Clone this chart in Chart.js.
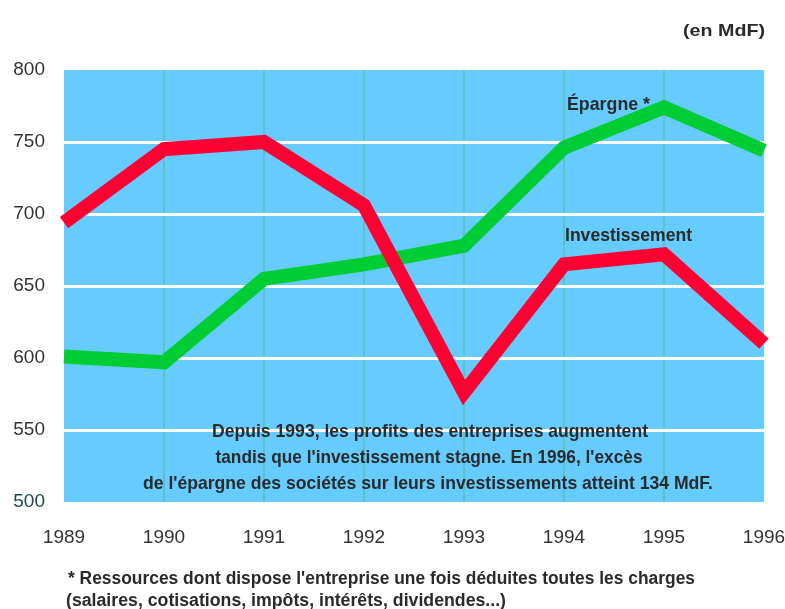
<!DOCTYPE html>
<html>
<head>
<meta charset="utf-8">
<script src="https://cdn.jsdelivr.net/npm/chart.js@4/dist/chart.umd.min.js"></script>
<style>
  html, body { margin: 0; padding: 0; background: #ffffff; }
  #wrap { width: 785px; height: 609px; position: relative; }
</style>
</head>
<body>
<div id="wrap"><canvas id="c" width="785" height="609"></canvas></div>
<script>
// Années
const years = ['1989', '1990', '1991', '1992', '1993', '1994', '1995', '1996'];
// Épargne des sociétés (en MdF)
const epargne = [601, 597, 655, 665, 678, 746, 774, 744];
// Investissement des sociétés (en MdF)
const investissement = [694, 745, 750, 706, 576, 665, 672, 610];
// Graduations de l'axe vertical
const yTicks = [500, 550, 600, 650, 700, 750, 800];

const annotationLines = [
  "Depuis 1993, les profits des entreprises augmentent",
  "tandis que l'investissement stagne. En 1996, l'excès",
  "de l'épargne des sociétés sur leurs investissements atteint 134 MdF."
];
const footnoteLines = [
  "* Ressources dont dispose l'entreprise une fois déduites toutes les charges",
  "(salaires, cotisations, impôts, intérêts, dividendes...)"
];

const TEXT = '#2a2a2a';

// Draws text squeezed or stretched horizontally to a given width
function fitText(ctx, text, x, y, w, align) {
  const m = ctx.measureText(text).width;
  ctx.save();
  ctx.translate(x, y);
  ctx.scale(w / m, 1);
  ctx.textAlign = 'left';
  ctx.textBaseline = 'alphabetic';
  let dx = 0;
  if (align === 'center') dx = -m / 2;
  else if (align === 'right') dx = -m;
  ctx.fillText(text, dx, 0);
  ctx.restore();
}

const plotBackground = {
  id: 'plotBackground',
  beforeDraw(chart) {
    const { ctx, chartArea: a } = chart;
    ctx.save();
    ctx.fillStyle = '#66ccff';
    ctx.fillRect(a.left, a.top, a.right - a.left, a.bottom - a.top);
    ctx.restore();
  }
};

const textLayer = {
  id: 'textLayer',
  afterDraw(chart) {
    const ctx = chart.ctx;
    ctx.save();
    ctx.fillStyle = TEXT;

    ctx.font = "bold 17px 'Liberation Sans', Arial, sans-serif";
    fitText(ctx, '(en MdF)', 683, 36, 82, 'left');

    ctx.font = "bold 19px 'Liberation Sans', Arial, sans-serif";
    fitText(ctx, 'Épargne *', 567, 110, 83, 'left');
    fitText(ctx, 'Investissement', 565, 241, 127, 'left');

    ctx.font = "bold 19px 'Liberation Sans', Arial, sans-serif";
    fitText(ctx, annotationLines[0], 430, 437, 436, 'center');
    fitText(ctx, annotationLines[1], 429, 463, 427, 'center');
    fitText(ctx, annotationLines[2], 428, 489, 570, 'center');

    ctx.font = "bold 18px 'Liberation Sans', Arial, sans-serif";
    fitText(ctx, footnoteLines[0], 68, 584, 627, 'left');
    fitText(ctx, footnoteLines[1], 66, 606, 440, 'left');
    ctx.restore();
  }
};

new Chart(document.getElementById('c'), {
  type: 'line',
  data: {
    labels: years,
    datasets: [
      {
        label: 'Investissement',
        data: investissement,
        borderColor: '#ff0033',
        borderWidth: 14,
        borderJoinStyle: 'miter',
        borderCapStyle: 'butt',
        pointRadius: 0,
        tension: 0,
        fill: false,
        clip: false
      },
      {
        label: 'Épargne *',
        data: epargne,
        borderColor: '#00cc33',
        borderWidth: 14,
        borderJoinStyle: 'miter',
        borderCapStyle: 'butt',
        pointRadius: 0,
        tension: 0,
        fill: false,
        clip: false
      }
    ]
  },
  options: {
    responsive: false,
    animation: false,
    devicePixelRatio: 1,
    layout: { padding: { left: 0, top: 70, right: 21, bottom: 0 } },
    plugins: {
      legend: { display: false },
      tooltip: { enabled: false }
    },
    scales: {
      x: {
        type: 'category',
        offset: false,
        z: -1,
        border: { display: false },
        grid: {
          drawTicks: false,
          lineWidth: 2,
          color: (c) => (c.index === 0 || c.index === years.length - 1) ? 'rgba(0,0,0,0)' : '#5cc3bd'
        },
        ticks: {
          padding: 24,
          color: '#333333',
          font: { family: "'Liberation Sans', Arial, sans-serif", size: 19 },
          maxRotation: 0,
          autoSkip: false
        },
        afterFit: (s) => { s.height = 107; s.paddingLeft = 0; s.paddingRight = 0; }
      },
      y: {
        min: yTicks[0],
        max: yTicks[yTicks.length - 1],
        z: -2,
        border: { display: false },
        afterBuildTicks: (s) => { s.ticks = yTicks.map(v => ({ value: v })); },
        grid: {
          drawTicks: false,
          lineWidth: 3,
          color: (c) => (c.tick && (c.tick.value === 500 || c.tick.value === 800)) ? 'rgba(0,0,0,0)' : '#ffffff'
        },
        ticks: {
          padding: 19,
          color: (c) => (c.tick && c.tick.value === 500) ? '#1c4a4a' : '#333333',
          font: { family: "'Liberation Sans', Arial, sans-serif", size: 19 }
        },
        afterFit: (s) => { s.width = 64; s.paddingTop = 0; s.paddingBottom = 0; }
      }
    }
  },
  plugins: [plotBackground, textLayer]
});
</script>
</body>
</html>
